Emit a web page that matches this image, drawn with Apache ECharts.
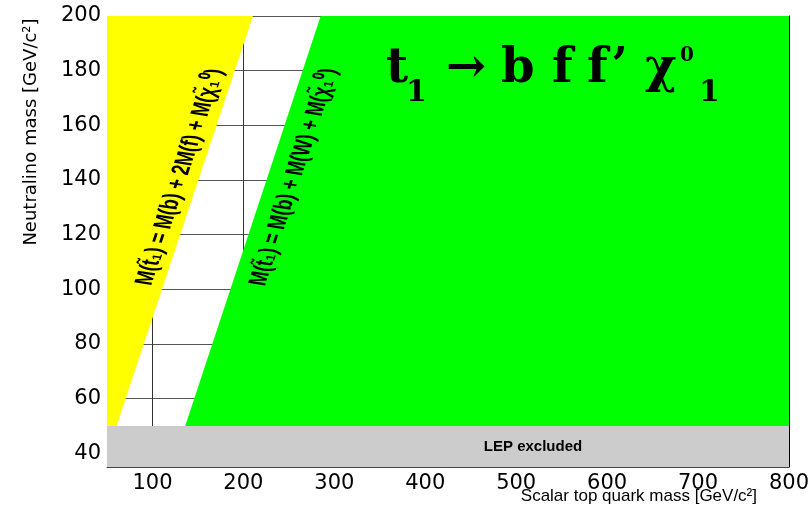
<!DOCTYPE html>
<html>
<head>
<meta charset="utf-8">
<script src="https://cdn.jsdelivr.net/npm/echarts@6/dist/echarts.min.js"></script>
<style>
  html, body { margin: 0; padding: 0; background: #ffffff; }
  #chart { width: 812px; height: 514px; }
</style>
</head>
<body>
<div id="chart"></div>
<script>
// Axis ranges in GeV/c^2
const stopRange = [50, 800];
const neutralinoRange = [35, 200];
const stopTicks = [100, 200, 300, 400, 500, 600, 700, 800];
const neutralinoTicks = [40, 60, 80, 100, 120, 140, 160, 180, 200];

// LEP lower limit on the neutralino mass
const lepLimit = 50;

// Kinematic edges as [stop mass, neutralino mass] end points
const fourBodyEdge = [[60.5, 50], [210.5, 200]];   // M(t1) = M(b) + 2M(f) + M(chi)
const threeBodyEdge = [[136, 50], [285, 200]];     // M(t1) = M(b) + M(W) + M(chi)

// Filled regions built from the edges and the axis limits
const lepRegion = [
  [stopRange[0], neutralinoRange[0]], [stopRange[1], neutralinoRange[0]],
  [stopRange[1], lepLimit], [stopRange[0], lepLimit]
];
const forbiddenRegion = [
  [stopRange[0], lepLimit], fourBodyEdge[0], fourBodyEdge[1], [stopRange[0], neutralinoRange[1]]
];
const twoBodyRegion = [
  threeBodyEdge[0], [stopRange[1], lepLimit], [stopRange[1], neutralinoRange[1]], threeBodyEdge[1]
];

const chart = echarts.init(document.getElementById('chart'), null, { renderer: 'canvas' });

function regionSeries(name, points, color) {
  return {
    type: 'custom',
    name: name,
    coordinateSystem: 'cartesian2d',
    silent: true,
    clip: true,
    z: 2,
    data: [[points[0][0], points[0][1]]],
    renderItem: function (params, api) {
      return {
        type: 'polygon',
        shape: { points: points.map(function (p) { return api.coord(p); }) },
        style: { fill: color, stroke: null }
      };
    }
  };
}

// Edge labels are laid out in an unstretched frame, then widened horizontally,
// which keeps them parallel to the edges on the stretched plot.
const labelStretch = 1.5;
const edgeAngle = Math.atan(Math.tan(71.6 * Math.PI / 180) * labelStretch);
const labelFont = '"Liberation Sans", Arial, sans-serif';
const titleFont = '"DejaVu Serif", serif';

function titlePiece(text, x, y, size) {
  return {
    type: 'text', x: x, y: y, z: 20, silent: true,
    style: {
      text: text, fill: '#000', align: 'left', verticalAlign: 'middle',
      font: 'bold ' + size + 'px ' + titleFont
    }
  };
}

function edgeLabel(text, x, y) {
  return {
    type: 'group', x: x, y: y, scaleX: labelStretch, z: 20, silent: true,
    children: [{
      type: 'group', rotation: edgeAngle, silent: true,
      children: [{
        type: 'text', x: 0, y: 0, z: 20, silent: true,
        style: {
          text: text, fill: '#000', align: 'center', verticalAlign: 'middle',
          font: 'bold 17px ' + labelFont
        }
      }]
    }]
  };
}

const option = {
  backgroundColor: '#ffffff',
  animation: false,
  grid: { left: 107, right: 23, top: 16, bottom: 47, containLabel: false },
  xAxis: [
    {
      type: 'value', min: stopRange[0], max: stopRange[1], position: 'bottom', z: 5,
      axisLine: { show: true, lineStyle: { color: '#444', width: 1 } },
      axisTick: { show: false, customValues: stopTicks },
      axisLabel: {
        customValues: stopTicks, margin: 6, color: '#000',
        fontFamily: '"DejaVu Sans", sans-serif', fontSize: 21
      },
      splitLine: { show: false }
    },
    {
      type: 'value', min: stopRange[0], max: stopRange[1], position: 'top', z: 0,
      axisLine: { show: false },
      axisTick: { show: false, customValues: stopTicks },
      axisLabel: { show: false, customValues: stopTicks },
      splitLine: { show: true, lineStyle: { color: '#333', width: 1 } }
    }
  ],
  yAxis: [
    {
      type: 'value', min: neutralinoRange[0], max: neutralinoRange[1], position: 'left', z: 0,
      axisLine: { show: false },
      axisTick: { show: false, customValues: neutralinoTicks },
      axisLabel: {
        customValues: neutralinoTicks, margin: 6, color: '#000',
        fontFamily: '"DejaVu Sans", sans-serif', fontSize: 21
      },
      splitLine: { show: true, lineStyle: { color: '#555', width: 1 } }
    },
    {
      type: 'value', min: neutralinoRange[0], max: neutralinoRange[1], position: 'right', z: 5,
      axisLine: { show: true, lineStyle: { color: '#000', width: 1 } },
      axisTick: { show: false },
      axisLabel: { show: false },
      splitLine: { show: false }
    }
  ],
  series: [
    regionSeries('LEP excluded', lepRegion, '#cccccc'),
    regionSeries('kinematically forbidden', forbiddenRegion, '#ffff00'),
    regionSeries('two-body region', twoBodyRegion, '#00ff00')
  ],
  graphic: [
    // axis titles
    {
      type: 'text', x: 31, y: 132, rotation: Math.PI / 2, z: 20, silent: true,
      style: {
        text: 'Neutralino mass [GeV/c²]', fill: '#000', align: 'center', verticalAlign: 'middle',
        font: '18px "DejaVu Sans", sans-serif'
      }
    },
    {
      type: 'text', x: 757, y: 496, z: 20, silent: true,
      style: {
        text: 'Scalar top quark mass [GeV/c²]', fill: '#000', align: 'right', verticalAlign: 'middle',
        font: '17px "Liberation Sans", Arial, sans-serif'
      }
    },
    // band label
    {
      type: 'text', x: 533, y: 447, z: 20, silent: true,
      style: {
        text: 'LEP excluded', fill: '#000', align: 'center', verticalAlign: 'middle',
        font: 'bold 15px "Liberation Sans", Arial, sans-serif'
      }
    },
    // edge labels
    edgeLabel('M(t̃₁) = M(b) + 2M(f) + M(χ̃₁⁰)', 180, 177),
    edgeLabel('M(t̃₁) = M(b) + M(W) + M(χ̃₁⁰)', 294, 177),
    // decay title
    titlePiece('t', 386, 70, 48),
    titlePiece('1', 406, 93, 30),
    titlePiece('→', 446, 70, 48),
    titlePiece('b', 501, 70, 48),
    titlePiece('f', 552, 70, 48),
    titlePiece('f’', 587, 70, 48),
    titlePiece('χ', 645, 70, 48),
    titlePiece('0', 680, 56, 20),
    titlePiece('1', 699, 93, 30)
  ]
};

chart.setOption(option);
</script>
</body>
</html>
